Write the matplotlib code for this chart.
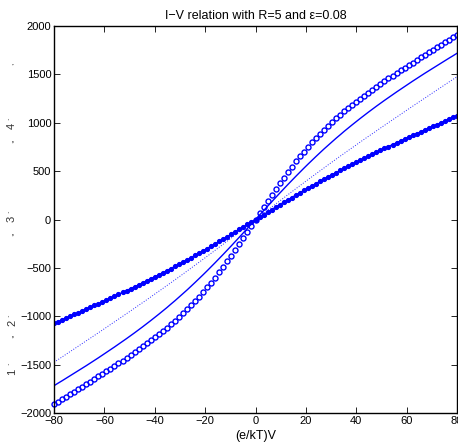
import matplotlib
matplotlib.use("Agg")
import matplotlib.pyplot as plt
import numpy as np

plt.rcParams['font.family'] = ['Liberation Sans', 'DejaVu Sans']

# bias (e/kT)V, 101 samples from -80 to 80
V = np.linspace(-80, 80, 101)

# positive half values (V = 0, 1.6, ..., 80); curves are odd
circ_pos = [0, 64, 128, 191, 253, 315, 375, 433, 491, 546, 600, 652, 702, 751, 797,
            842, 886, 928, 968, 1007, 1045, 1081, 1117, 1151, 1185, 1218, 1250, 1281,
            1312, 1342, 1372, 1401, 1429, 1458, 1486, 1514, 1541, 1568, 1595, 1622,
            1649, 1676, 1702, 1728, 1755, 1781, 1807, 1833, 1858, 1884, 1910]
solid_pos = [0, 46, 91, 137, 182, 227, 272, 316, 360, 403, 446, 488, 530, 571, 611,
             651, 690, 729, 766, 803, 840, 875, 911, 945, 979, 1012, 1045, 1077, 1109,
             1140, 1171, 1201, 1231, 1260, 1289, 1318, 1346, 1374, 1402, 1430, 1457,
             1484, 1511, 1537, 1563, 1589, 1615, 1641, 1667, 1692, 1718]
dotted_pos = [0, 32, 64, 96, 128, 160, 191, 223, 255, 286, 318, 349, 380, 411, 442,
              472, 503, 533, 564, 594, 624, 654, 683, 713, 742, 771, 801, 830, 859,
              887, 916, 945, 973, 1002, 1030, 1058, 1086, 1115, 1143, 1171, 1199, 1227,
              1254, 1282, 1310, 1338, 1365, 1393, 1421, 1448, 1476]
dots_pos = [0, 26, 51, 77, 102, 128, 153, 178, 203, 227, 252, 276, 300, 324, 348,
            371, 395, 418, 440, 463, 485, 507, 529, 550, 571, 592, 613, 634, 654, 675,
            695, 715, 735, 754, 774, 793, 812, 832, 851, 870, 888, 907, 926, 944, 963,
            981, 1000, 1018, 1036, 1055, 1073]

def full(pos):
    pos = np.array(pos, dtype=float)
    return np.concatenate([-pos[:0:-1], pos])

I_circ = full(circ_pos)
I_solid = full(solid_pos)
I_dotted = full(dotted_pos)
I_dots = full(dots_pos)

xticks = np.arange(-80, 81, 20)
yticks = np.arange(-2000, 2001, 500)

fig = plt.figure(figsize=(4.58, 4.45), dpi=100)
ax = fig.add_axes([54/458, 32/445, 403/458, 387/445])

ax.plot(V, I_dotted, ':', color='#2a2aff', lw=0.7)
ax.plot(V, I_solid, '-', color='#0000ff', lw=1.0)
ax.plot(V, I_dots, '.-', color='#0000ff', lw=1.0, ms=5.5)
ax.plot(V, I_circ, 'o', color='#0000ff', mfc='none', mew=1.0, ms=3.6, clip_on=False)

ax.set_xlim(-80, 80)
ax.set_ylim(-2000, 2000)
ax.set_xticks(xticks)
ax.set_yticks(yticks)
ax.tick_params(direction='in', top=True, right=True, length=4, width=0.6,
               labelsize=8, pad=2)
for s in ax.spines.values():
    s.set_linewidth(1.0)

ax.set_title('I\u2212V relation with R=5 and \u03b5=0.08', fontsize=9, pad=5)
ax.set_xlabel('(e/kT)V', fontsize=9, labelpad=3)

# garbled y label as it appears in the picture
ylab = [('1', 372, 8), ('`', 364, 6),
        (',,', 336, 6), ('2', 323, 8), ('`', 316, 6),
        (',,', 234, 6), ('3', 219, 8), ('`', 212, 6),
        (',,', 141, 6), ('4', 126, 8), ('`', 119, 6),
        (',', 64, 6)]
for txt, ypix, fs in ylab:
    fig.text(12/458, 1 - ypix/445, txt, rotation=90, fontsize=fs,
             ha='center', va='center', color='#333333')

fig.savefig('out.png', dpi=100)
